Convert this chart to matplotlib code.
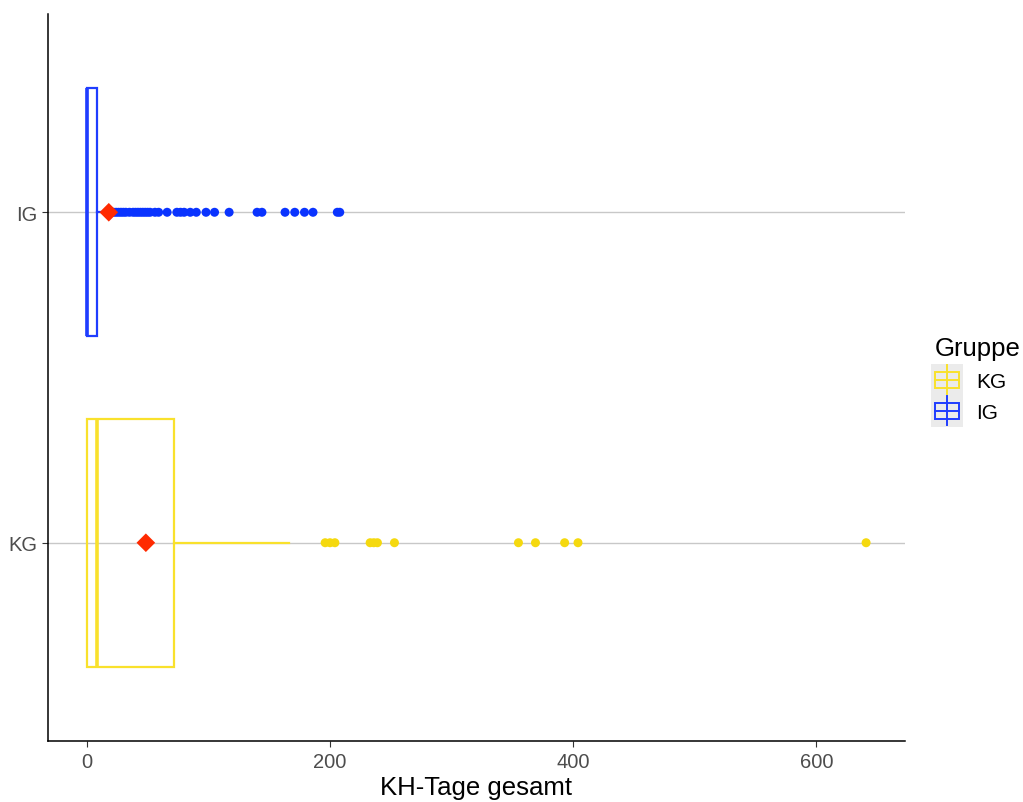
import numpy as np
import matplotlib
matplotlib.use('Agg')
import matplotlib.pyplot as plt
from matplotlib.legend_handler import HandlerBase
from matplotlib.patches import Rectangle
from matplotlib.lines import Line2D

plt.rcParams['font.family'] = ['Liberation Sans', 'DejaVu Sans']

# box statistics (q1, median, q3, whisker low, whisker high, mean)
groups = ['KG', 'IG']
q1 = [0, 0]
medians = [8, 0]
q3 = [72, 8]
whisk_lo = [0, 0]
whisk_hi = [166, 20]
means = [48.5, 18]

# outliers
kg_out = [196, 200, 204, 233, 236, 239, 253, 355, 369, 393, 404, 641]
ig_out = [22, 24, 26, 28, 30, 32, 35, 38, 40, 42, 44, 46, 48, 50, 52, 56, 59, 66,
          74, 77, 80, 85, 90, 98, 105, 117, 140, 144, 163, 171, 179, 186, 206, 208]
outliers = [kg_out, ig_out]

edge_cols = ['#F9E12C', '#1F3DFF']
pt_cols = ['#F5D90F', '#0A33FF']
mean_col = '#FF2A00'

fig = plt.figure(figsize=(10.23, 8.03), dpi=100)
ax = fig.add_axes([48 / 1023, 61 / 803, 857 / 1023, 727 / 803])

ypos = [1, 2]
for y in ypos:
    ax.axhline(y, color='#C8C8C8', lw=1.0, zorder=0)

bw = 0.75
for i, y in enumerate(ypos):
    c = edge_cols[i]
    ax.add_patch(Rectangle((q1[i], y - bw / 2), q3[i] - q1[i], bw, fill=False,
                           edgecolor=c, lw=1.6, zorder=2))
    ax.plot([medians[i], medians[i]], [y - bw / 2, y + bw / 2], color=c, lw=2.6,
            solid_capstyle='butt', zorder=2)
    ax.plot([q3[i], whisk_hi[i]], [y, y], color=c, lw=1.6, zorder=2)
    ax.plot([whisk_lo[i], q1[i]], [y, y], color=c, lw=1.6, zorder=2)
    ax.scatter(outliers[i], [y] * len(outliers[i]), s=42, color=pt_cols[i],
               edgecolors='none', zorder=3)
    ax.scatter([means[i]], [y], marker='D', s=90, color=mean_col,
               edgecolors='none', zorder=4)

ax.set_xlim(-32, 673)
ax.set_ylim(0.4, 2.6)
ax.set_xticks([0, 200, 400, 600])
ax.set_yticks(ypos)
ax.set_yticklabels(groups)
ax.tick_params(axis='both', labelcolor='#4D4D4D', labelsize=14.5, length=4,
               width=0.8, color='#333333', pad=4)
ax.spines['top'].set_visible(False)
ax.spines['right'].set_visible(False)
ax.spines['left'].set_linewidth(1.1)
ax.spines['bottom'].set_linewidth(1.1)
ax.set_xlabel('KH-Tage gesamt', fontsize=18.5, color='black', labelpad=3)


class BoxHandler(HandlerBase):
    def __init__(self, color):
        super().__init__()
        self.color = color

    def create_artists(self, legend, orig_handle, xdescent, ydescent, width, height,
                       fontsize, trans):
        s = height * 1.5
        cx = width / 2 - xdescent
        cy = height / 2 - ydescent
        bg = Rectangle((cx - s / 2, cy - s / 2), s, s, facecolor='#EBEBEB',
                       edgecolor='none', transform=trans)
        box = Rectangle((cx - s * 0.38, cy - s * 0.25), s * 0.76, s * 0.5, fill=False,
                        edgecolor=self.color, lw=1.4, transform=trans)
        mid = Line2D([cx - s * 0.38, cx + s * 0.38], [cy, cy], color=self.color,
                     lw=1.4, transform=trans)
        wh = Line2D([cx, cx], [cy - s * 0.45, cy + s * 0.45], color=self.color,
                    lw=1.4, transform=trans)
        return [bg, wh, box, mid]


h_kg = Rectangle((0, 0), 1, 1)
h_ig = Rectangle((0, 1), 1, 1)
leg = fig.legend([h_kg, h_ig], groups, title='Gruppe', loc='upper left',
                 bbox_to_anchor=(916 / 1023, 1 - 318 / 803), frameon=False,
                 fontsize=15, title_fontsize=18.5, handlelength=1.2, handleheight=1.2,
                 handletextpad=0.8, labelspacing=0.45,
                 handler_map={h_kg: BoxHandler(edge_cols[0]), h_ig: BoxHandler(edge_cols[1])})
leg._legend_box.align = 'left'

fig.savefig('out.png', dpi=100)
